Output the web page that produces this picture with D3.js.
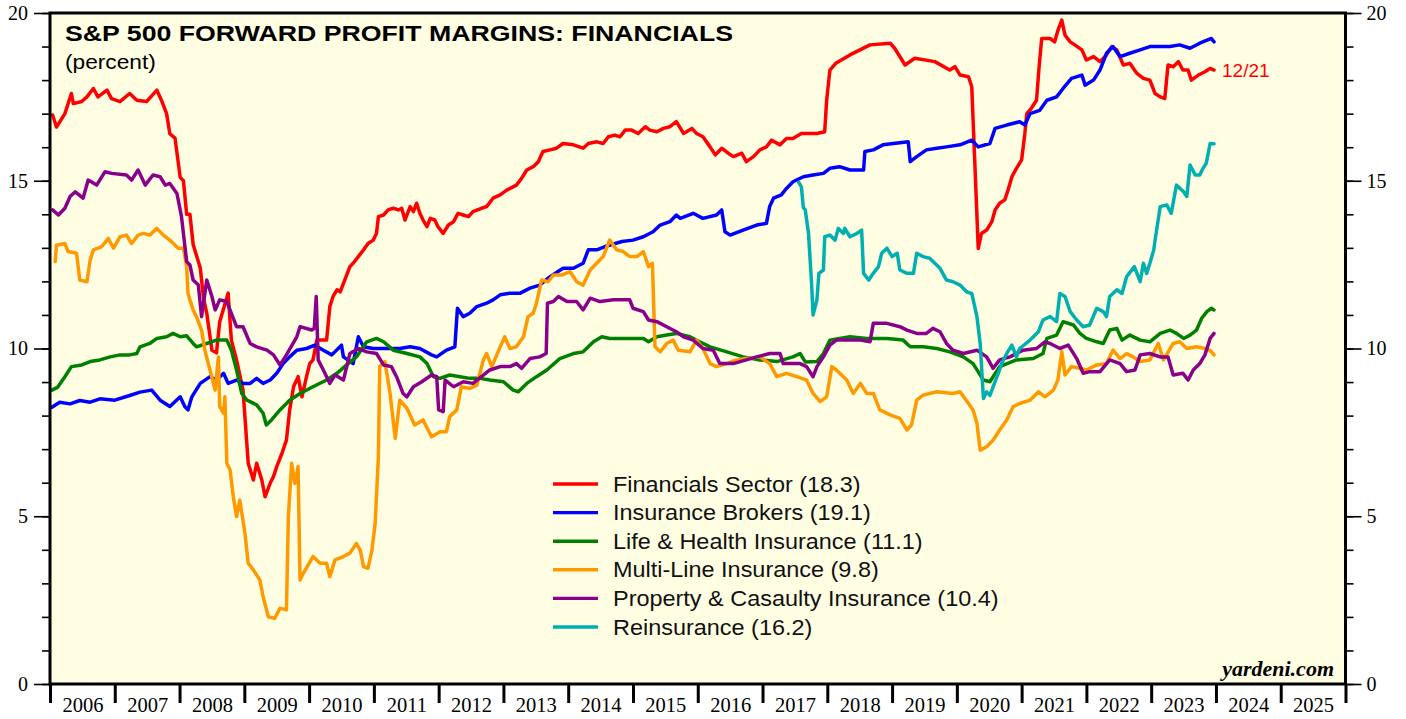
<!DOCTYPE html>
<html>
<head>
<meta charset="utf-8">
<script src="https://cdn.jsdelivr.net/npm/d3@7"></script>
<style>
  html, body { margin: 0; padding: 0; background: #ffffff; }
  svg { display: block; }
</style>
</head>
<body>
<svg id="chart" width="1406" height="719"></svg>
<script>
// ---------------- DATA (decimal year, percent) ----------------
const title = "S&P 500 FORWARD PROFIT MARGINS: FINANCIALS";
const subtitle = "(percent)";
const yTicks = [0, 5, 10, 15, 20];
const yearLabels = [2006,2007,2008,2009,2010,2011,2012,2013,2014,2015,2016,2017,2018,2019,2020,2021,2022,2023,2024,2025];
const seriesNames = ["Financials Sector (18.3)","Insurance Brokers (19.1)","Life & Health Insurance (11.1)","Multi-Line Insurance (9.8)","Property & Casaulty Insurance (10.4)","Reinsurance (16.2)"];
const lastDateLabel = "12/21";

const financials = [
[2006.04,16.96],[2006.10,16.6],[2006.23,17.0],[2006.33,17.6],[2006.36,17.3],[2006.49,17.36],[2006.57,17.5],[2006.67,17.75],[2006.74,17.5],[2006.88,17.7],[2006.95,17.45],
[2007.08,17.36],[2007.23,17.6],[2007.34,17.4],[2007.49,17.36],[2007.65,17.7],[2007.72,17.4],[2007.80,17.0],[2007.85,16.4],[2007.93,16.27],
[2008.01,15.1],[2008.06,15.0],[2008.11,14.0],[2008.16,14.0],[2008.21,13.1],[2008.32,12.4],[2008.37,11.5],[2008.42,11.05],[2008.50,9.95],[2008.57,9.87],[2008.62,10.8],[2008.75,11.65],[2008.80,10.25],[2008.88,9.66],[2008.98,8.76],
[2009.06,6.58],[2009.14,6.08],[2009.19,6.58],[2009.27,6.08],[2009.32,5.58],[2009.40,5.99],[2009.45,6.18],[2009.50,6.48],[2009.58,6.87],[2009.65,7.27],[2009.70,8.17],[2009.76,8.86],[2009.83,9.16],[2009.89,8.56],[2009.96,9.16],
[2010.01,9.55],[2010.06,9.66],[2010.12,10.25],[2010.27,10.25],[2010.32,11.25],[2010.37,11.55],[2010.43,11.75],[2010.48,11.69],[2010.55,12.04],[2010.63,12.44],[2010.68,12.54],[2010.76,12.74],[2010.84,12.94],[2010.91,13.13],[2010.99,13.23],
[2011.04,13.43],[2011.07,13.93],[2011.15,13.98],[2011.22,14.13],[2011.30,14.18],[2011.38,14.13],[2011.43,14.18],[2011.48,13.83],[2011.56,14.23],[2011.61,14.08],[2011.66,14.33],[2011.71,14.03],[2011.76,13.83],[2011.82,13.63],[2011.87,13.88],[2011.94,13.83],[2011.99,13.63],
[2012.07,13.43],[2012.15,13.68],[2012.23,13.78],[2012.30,14.03],[2012.38,13.98],[2012.46,13.93],[2012.53,14.08],[2012.66,14.18],[2012.74,14.23],[2012.84,14.48],[2012.95,14.58],
[2013.05,14.72],[2013.20,14.87],[2013.28,15.07],[2013.36,15.32],[2013.46,15.42],[2013.54,15.57],[2013.61,15.87],[2013.72,15.92],[2013.82,15.97],[2013.92,16.11],
[2014.08,16.07],[2014.23,15.97],[2014.31,16.11],[2014.44,16.16],[2014.54,16.11],[2014.62,16.31],[2014.72,16.36],[2014.80,16.31],[2014.88,16.51],[2014.98,16.51],
[2015.08,16.41],[2015.19,16.61],[2015.26,16.51],[2015.37,16.46],[2015.47,16.56],[2015.57,16.61],[2015.67,16.76],[2015.78,16.41],[2015.91,16.56],[2015.98,16.41],
[2016.08,16.31],[2016.19,16.01],[2016.27,15.77],[2016.37,15.97],[2016.47,15.82],[2016.55,15.72],[2016.68,15.82],[2016.75,15.57],[2016.86,15.72],[2016.96,15.92],
[2017.06,16.01],[2017.14,16.21],[2017.27,16.07],[2017.37,16.26],[2017.47,16.26],[2017.60,16.41],[2017.73,16.41],[2017.84,16.41],[2017.96,16.46],[2017.99,17.4],
[2018.04,18.3],[2018.13,18.5],[2018.35,18.75],[2018.66,19.05],[2018.97,19.1],[2019.04,18.95],[2019.20,18.45],[2019.35,18.65],[2019.66,18.55],[2019.89,18.3],[2019.97,18.4],
[2020.05,18.15],[2020.18,18.1],[2020.23,17.8],[2020.28,15.42],[2020.33,12.98],[2020.38,13.43],[2020.46,13.53],[2020.54,13.78],[2020.59,14.13],[2020.66,14.33],[2020.74,14.43],[2020.79,14.72],[2020.85,15.12],[2020.92,15.37],
[2021.00,15.62],[2021.05,16.41],[2021.08,17.0],[2021.15,17.16],[2021.23,17.4],[2021.27,18.4],[2021.31,19.24],[2021.44,19.24],[2021.51,19.14],[2021.56,19.48],[2021.62,19.79],[2021.67,19.34],[2021.75,19.14],[2021.82,19.05],[2021.93,18.9],
[2022.00,18.6],[2022.11,18.7],[2022.21,18.55],[2022.31,18.75],[2022.39,19.0],[2022.47,18.9],[2022.57,18.45],[2022.67,18.5],[2022.78,18.2],[2022.88,18.05],[2022.98,18.0],
[2023.06,17.6],[2023.14,17.5],[2023.21,17.45],[2023.26,18.45],[2023.34,18.4],[2023.42,18.55],[2023.49,18.3],[2023.57,18.3],[2023.62,18.0],[2023.73,18.15],[2023.83,18.25],[2023.91,18.35],[2023.97,18.3]
];

const brokers = [
[2006.03,8.25],[2006.15,8.4],[2006.31,8.35],[2006.46,8.45],[2006.62,8.4],[2006.77,8.5],[2007.00,8.46],[2007.23,8.6],[2007.39,8.7],[2007.57,8.76],[2007.70,8.46],[2007.85,8.27],
[2008.01,8.56],[2008.08,8.27],[2008.13,8.17],[2008.19,8.56],[2008.32,8.96],[2008.47,9.16],[2008.57,9.06],[2008.68,9.26],[2008.75,8.96],[2008.88,9.06],[2008.98,8.96],
[2009.09,8.96],[2009.19,9.11],[2009.29,8.96],[2009.40,9.06],[2009.50,9.26],[2009.60,9.55],[2009.70,9.75],[2009.81,9.95],[2009.96,10.0],
[2010.09,10.1],[2010.22,9.95],[2010.35,9.81],[2010.50,10.1],[2010.53,9.75],[2010.68,9.55],[2010.76,10.35],[2010.84,10.05],[2010.99,10.0],
[2011.20,10.0],[2011.40,10.0],[2011.56,10.05],[2011.71,10.0],[2011.89,9.81],[2011.97,9.75],[2012.12,9.95],[2012.25,10.05],[2012.29,11.2],[2012.38,10.95],[2012.48,11.05],[2012.59,11.25],[2012.74,11.35],[2012.84,11.45],[2012.95,11.6],
[2013.10,11.65],[2013.26,11.65],[2013.41,11.8],[2013.56,11.89],[2013.72,12.14],[2013.92,12.39],[2014.08,12.39],[2014.23,12.54],[2014.31,12.94],[2014.44,12.94],[2014.57,13.04],[2014.83,13.19],
[2015.00,13.23],[2015.16,13.33],[2015.31,13.48],[2015.42,13.68],[2015.57,13.78],[2015.67,13.98],[2015.73,13.88],[2015.93,14.03],[2016.08,13.88],[2016.29,13.98],[2016.37,14.13],[2016.42,13.48],[2016.50,13.38],[2016.70,13.53],[2016.91,13.68],
[2017.06,13.73],[2017.11,14.23],[2017.17,14.48],[2017.29,14.58],[2017.37,14.77],[2017.47,14.97],[2017.63,15.12],[2017.78,15.17],[2017.94,15.22],
[2018.04,15.37],[2018.19,15.42],[2018.35,15.32],[2018.56,15.32],[2018.58,15.87],[2018.71,15.92],[2018.86,16.07],[2019.02,16.11],[2019.25,16.16],[2019.28,15.57],[2019.38,15.72],[2019.53,15.92],[2019.69,15.97],[2019.84,16.01],
[2020.05,16.07],[2020.23,16.21],[2020.33,16.01],[2020.51,16.11],[2020.59,16.56],[2020.77,16.66],[2020.97,16.76],[2021.05,16.66],[2021.13,17.0],[2021.28,17.1],[2021.39,17.4],[2021.54,17.5],[2021.64,17.75],[2021.77,18.05],[2021.93,18.15],[2021.98,17.85],
[2022.11,18.0],[2022.21,18.3],[2022.31,18.8],[2022.41,19.0],[2022.52,18.7],[2022.67,18.8],[2022.83,18.9],[2022.98,19.0],[2023.29,19.0],[2023.44,19.05],[2023.60,18.95],[2023.75,19.1],[2023.93,19.24],[2023.97,19.14]
];

const lifeHealth = [
[2006.03,8.76],[2006.12,8.85],[2006.23,9.16],[2006.33,9.46],[2006.49,9.51],[2006.62,9.61],[2006.77,9.66],[2006.93,9.75],[2007.08,9.81],[2007.23,9.81],[2007.34,9.85],[2007.39,10.05],[2007.54,10.15],[2007.65,10.3],[2007.80,10.35],[2007.90,10.45],
[2008.01,10.35],[2008.11,10.38],[2008.21,10.15],[2008.26,10.05],[2008.42,10.15],[2008.57,10.25],[2008.73,10.25],[2008.80,9.95],[2008.88,9.36],[2008.96,8.66],[2009.04,8.46],[2009.19,8.32],[2009.29,8.07],[2009.34,7.72],[2009.42,7.87],[2009.55,8.17],[2009.70,8.46],[2009.86,8.66],
[2010.06,8.86],[2010.27,9.06],[2010.43,9.26],[2010.58,9.51],[2010.73,9.75],[2010.89,10.2],[2011.04,10.3],[2011.15,10.2],[2011.30,9.95],[2011.51,9.85],[2011.71,9.75],[2011.82,9.55],[2011.92,9.16],
[2012.02,9.11],[2012.17,9.21],[2012.33,9.16],[2012.48,9.11],[2012.64,9.11],[2012.79,9.06],[2013.00,9.01],[2013.15,8.76],[2013.23,8.71],[2013.36,8.96],[2013.51,9.16],[2013.67,9.36],[2013.87,9.7],
[2014.08,9.85],[2014.23,9.9],[2014.39,10.2],[2014.52,10.35],[2014.64,10.3],[2014.90,10.3],[2015.16,10.3],[2015.24,10.2],[2015.37,10.35],[2015.52,10.4],[2015.67,10.45],[2015.88,10.35],
[2016.03,10.2],[2016.19,10.05],[2016.45,9.9],[2016.70,9.75],[2016.96,9.66],[2017.22,9.61],[2017.47,9.75],[2017.58,9.85],[2017.66,9.6],[2017.84,9.61],[2017.94,9.85],
[2018.04,10.25],[2018.19,10.3],[2018.35,10.35],[2018.61,10.3],[2018.92,10.3],[2019.17,10.25],[2019.28,10.05],[2019.48,10.05],[2019.69,10.0],[2019.89,9.9],
[2020.10,9.75],[2020.25,9.55],[2020.41,9.06],[2020.51,9.01],[2020.66,9.46],[2020.92,9.66],[2021.18,9.7],[2021.33,9.85],[2021.39,10.3],[2021.54,10.4],[2021.64,10.8],[2021.80,10.7],[2021.90,10.45],
[2022.00,10.3],[2022.16,10.2],[2022.26,10.15],[2022.36,10.55],[2022.47,10.6],[2022.55,10.25],[2022.67,10.4],[2022.83,10.25],[2022.98,10.2],
[2023.14,10.45],[2023.29,10.55],[2023.39,10.45],[2023.50,10.3],[2023.60,10.4],[2023.70,10.55],[2023.78,10.9],[2023.86,11.1],[2023.93,11.2],[2023.97,11.15]
];

const multiLine = [
[2006.08,12.59],[2006.10,13.08],[2006.23,13.13],[2006.28,12.89],[2006.41,12.84],[2006.46,12.04],[2006.57,11.99],[2006.62,12.64],[2006.67,12.94],[2006.80,13.04],[2006.90,13.28],[2006.98,12.99],
[2007.08,13.33],[2007.18,13.38],[2007.26,13.13],[2007.36,13.38],[2007.44,13.43],[2007.54,13.38],[2007.65,13.58],[2007.75,13.38],[2007.85,13.23],[2007.98,12.99],
[2008.06,12.99],[2008.11,12.44],[2008.13,11.65],[2008.16,11.45],[2008.21,11.15],[2008.26,10.95],[2008.34,10.55],[2008.39,9.95],[2008.47,9.36],[2008.55,8.76],[2008.60,9.75],[2008.62,8.27],[2008.68,8.07],[2008.70,8.56],[2008.73,6.58],[2008.78,6.38],[2008.83,5.58],[2008.88,4.99],[2008.93,5.48],
[2009.01,4.49],[2009.06,3.6],[2009.14,3.4],[2009.24,3.1],[2009.29,2.6],[2009.37,2.0],[2009.47,1.96],[2009.55,2.26],[2009.65,2.21],[2009.68,4.99],[2009.73,6.58],[2009.78,5.98],[2009.83,6.48],[2009.86,3.1],[2009.91,3.3],
[2010.06,3.8],[2010.17,3.6],[2010.27,3.6],[2010.32,3.2],[2010.40,3.7],[2010.53,3.8],[2010.63,3.9],[2010.73,4.19],[2010.79,3.99],[2010.84,3.5],[2010.91,3.45],[2010.97,3.99],
[2011.02,4.79],[2011.07,6.78],[2011.09,9.46],[2011.17,9.61],[2011.25,8.66],[2011.33,7.32],[2011.40,8.46],[2011.51,8.22],[2011.63,7.72],[2011.76,7.87],[2011.89,7.37],
[2012.02,7.52],[2012.12,7.52],[2012.17,7.97],[2012.28,8.17],[2012.35,8.86],[2012.48,8.81],[2012.59,8.91],[2012.69,9.66],[2012.74,9.85],[2012.82,9.46],[2012.95,10.05],
[2013.02,10.35],[2013.10,10.0],[2013.20,10.05],[2013.31,10.35],[2013.38,10.95],[2013.46,11.05],[2013.51,11.35],[2013.59,12.04],[2013.69,11.99],[2013.77,12.19],[2013.90,12.19],
[2014.03,12.29],[2014.13,11.99],[2014.23,11.89],[2014.34,12.34],[2014.44,12.54],[2014.54,12.74],[2014.64,13.23],[2014.75,12.94],[2014.85,12.89],[2014.95,12.74],
[2015.06,12.74],[2015.16,12.89],[2015.24,12.44],[2015.30,12.54],[2015.34,10.05],[2015.42,9.9],[2015.52,10.15],[2015.62,10.25],[2015.70,9.95],[2015.88,9.9],[2015.98,10.25],
[2016.08,10.0],[2016.19,9.55],[2016.29,9.46],[2016.45,9.55],[2016.60,9.66],[2016.75,9.7],[2016.96,9.75],[2017.11,9.55],[2017.22,9.16],[2017.37,9.26],[2017.53,9.16],[2017.68,9.06],[2017.78,8.66],[2017.89,8.42],[2017.99,8.56],
[2018.07,9.46],[2018.14,9.36],[2018.30,9.06],[2018.40,8.66],[2018.51,8.96],[2018.61,8.66],[2018.71,8.66],[2018.81,8.17],[2018.97,8.02],[2019.12,7.92],[2019.23,7.57],[2019.30,7.72],[2019.38,8.46],[2019.48,8.61],[2019.69,8.71],[2019.94,8.66],
[2020.05,8.71],[2020.18,8.36],[2020.25,8.17],[2020.31,7.77],[2020.36,6.97],[2020.46,7.07],[2020.56,7.27],[2020.66,7.57],[2020.77,7.87],[2020.87,8.27],[2020.97,8.36],
[2021.13,8.46],[2021.26,8.71],[2021.36,8.56],[2021.49,8.76],[2021.56,9.06],[2021.62,9.9],[2021.67,9.21],[2021.77,9.46],[2021.90,9.41],
[2022.00,9.36],[2022.16,9.51],[2022.31,9.55],[2022.41,9.95],[2022.52,9.7],[2022.62,9.85],[2022.72,9.75],[2022.83,9.61],[2022.98,9.66],
[2023.11,10.15],[2023.19,9.66],[2023.34,10.15],[2023.44,10.2],[2023.55,10.0],[2023.70,10.05],[2023.83,10.0],[2023.90,9.95],[2023.93,9.9],[2023.97,9.81]
];

const propCasualty = [
[2006.04,14.13],[2006.13,13.98],[2006.23,14.18],[2006.31,14.53],[2006.39,14.67],[2006.51,14.48],[2006.59,15.02],[2006.72,14.87],[2006.85,15.27],[2006.95,15.22],
[2007.18,15.17],[2007.26,15.02],[2007.36,15.32],[2007.47,14.87],[2007.59,15.17],[2007.70,15.12],[2007.78,14.87],[2007.85,14.92],[2007.96,14.62],
[2008.03,13.93],[2008.11,12.59],[2008.16,12.49],[2008.21,12.04],[2008.29,11.89],[2008.34,10.95],[2008.42,12.04],[2008.50,11.55],[2008.55,11.15],[2008.62,11.45],[2008.73,11.4],[2008.80,11.05],[2008.88,10.65],[2008.98,10.65],
[2009.09,10.15],[2009.19,10.05],[2009.35,9.95],[2009.45,9.81],[2009.55,9.51],[2009.65,9.81],[2009.81,10.35],[2009.86,10.65],[2010.04,10.55],[2010.08,10.6],[2010.11,11.55],[2010.14,9.66],[2010.22,9.36],[2010.32,8.96],[2010.40,9.21],[2010.53,9.06],[2010.63,9.85],[2010.76,10.0],[2010.89,9.9],
[2011.04,9.85],[2011.15,9.51],[2011.27,9.46],[2011.35,9.16],[2011.45,8.66],[2011.51,8.56],[2011.61,8.86],[2011.74,9.01],[2011.89,9.21],[2011.97,9.16],[2012.00,8.17],[2012.07,8.12],[2012.10,9.06],[2012.23,8.86],[2012.38,9.01],[2012.53,8.96],[2012.66,9.16],[2012.79,9.36],[2012.95,9.46],
[2013.10,9.46],[2013.20,9.55],[2013.28,9.41],[2013.41,9.7],[2013.56,9.75],[2013.66,9.85],[2013.68,11.35],[2013.77,11.4],[2013.85,11.55],[2013.98,11.4],[2014.13,11.4],[2014.23,11.15],[2014.34,11.5],[2014.49,11.4],[2014.70,11.45],[2014.95,11.45],
[2015.00,11.2],[2015.16,11.1],[2015.24,10.85],[2015.37,10.8],[2015.52,10.65],[2015.67,10.5],[2015.78,10.35],[2015.93,10.25],[2016.08,10.0],[2016.24,9.95],[2016.34,9.55],[2016.55,9.55],[2016.75,9.66],[2016.91,9.75],
[2017.11,9.85],[2017.27,9.85],[2017.32,9.55],[2017.58,9.55],[2017.68,9.46],[2017.78,9.16],[2017.84,9.46],[2017.94,9.75],[2018.04,10.1],[2018.14,10.25],[2018.51,10.25],[2018.66,10.2],[2018.71,10.75],[2018.92,10.75],
[2019.12,10.65],[2019.23,10.55],[2019.38,10.45],[2019.53,10.45],[2019.63,10.6],[2019.74,10.5],[2019.84,10.15],[2019.94,9.95],[2020.10,9.85],[2020.31,9.95],[2020.46,9.75],[2020.56,9.41],[2020.66,9.66],[2020.82,9.75],
[2021.02,9.95],[2021.23,10.0],[2021.36,10.2],[2021.44,10.15],[2021.59,10.0],[2021.72,10.1],[2021.85,9.7],[2021.95,9.26],[2022.05,9.31],[2022.21,9.31],[2022.36,9.66],[2022.52,9.55],[2022.62,9.31],[2022.75,9.36],[2022.83,9.81],[2022.98,9.85],
[2023.14,9.75],[2023.26,9.75],[2023.34,9.21],[2023.49,9.26],[2023.57,9.06],[2023.65,9.36],[2023.75,9.55],[2023.83,9.81],[2023.91,10.3],[2023.97,10.45]
];

const reinsurance = [
[2017.56,14.95],[2017.60,14.82],[2017.63,14.2],[2017.66,14.13],[2017.71,13.43],[2017.76,11.84],[2017.78,11.0],[2017.84,11.45],[2017.87,12.24],[2017.94,12.34],[2017.96,13.33],
[2018.04,13.38],[2018.12,13.23],[2018.17,13.58],[2018.25,13.43],[2018.27,13.58],[2018.35,13.33],[2018.46,13.43],[2018.53,13.53],[2018.56,12.24],[2018.64,12.04],[2018.71,12.24],[2018.79,12.44],[2018.84,12.84],[2018.92,12.99],
[2019.00,12.74],[2019.08,12.84],[2019.12,12.34],[2019.23,12.24],[2019.33,12.24],[2019.38,12.84],[2019.48,12.74],[2019.58,12.69],[2019.66,12.54],[2019.74,12.39],[2019.84,12.04],[2019.94,11.99],
[2020.05,11.89],[2020.15,11.69],[2020.23,11.64],[2020.31,10.95],[2020.36,10.15],[2020.41,8.51],[2020.46,8.71],[2020.51,8.6],[2020.59,9.01],[2020.64,9.26],[2020.69,9.55],[2020.77,9.85],[2020.85,10.1],[2020.92,9.75],[2020.97,10.0],
[2021.13,10.25],[2021.26,10.5],[2021.33,10.85],[2021.44,10.95],[2021.54,10.8],[2021.59,11.64],[2021.67,11.55],[2021.75,11.1],[2021.85,10.85],[2021.95,10.65],
[2022.05,10.7],[2022.16,11.2],[2022.26,11.1],[2022.31,10.95],[2022.36,11.55],[2022.47,11.75],[2022.55,11.64],[2022.62,12.14],[2022.74,12.44],[2022.83,11.99],[2022.88,12.54],[2022.93,12.24],[2022.98,12.54],
[2023.04,12.94],[2023.06,13.23],[2023.14,14.23],[2023.24,14.28],[2023.31,14.03],[2023.39,14.87],[2023.50,14.67],[2023.55,14.53],[2023.60,15.47],[2023.68,15.17],[2023.75,15.17],[2023.80,15.37],[2023.85,15.52],[2023.91,16.11],[2023.97,16.1]
];

const seriesData = [financials, brokers, lifeHealth, multiLine, propCasualty, reinsurance];
const seriesColors = ["#ff0000", "#0000ff", "#008000", "#ff9900", "#8b008b", "#00b0b0"];

// ---------------- LAYOUT ----------------
const L = 50, R = 1345.5, T = 13, B = 684;
const svg = d3.select("#chart");
const x = d3.scaleLinear().domain([2006, 2026]).range([L, R]);
const y = d3.scaleLinear().domain([0, 20]).range([B, T]);

svg.append("defs").append("clipPath").attr("id", "plotclip")
  .append("rect").attr("x", L).attr("y", T).attr("width", R - L).attr("height", B - T);

svg.append("rect").attr("x", L).attr("y", T).attr("width", R - L).attr("height", B - T)
  .attr("fill", "#fffee3");

// Lines (legend order: later series drawn on top)
const line = d3.line().x(d => x(d[0])).y(d => y(d[1])).curve(d3.curveLinear);
const gLines = svg.append("g").attr("clip-path", "url(#plotclip)");
seriesData.forEach((data, i) => {
  gLines.append("path").datum(data)
    .attr("d", line).attr("fill", "none")
    .attr("stroke", seriesColors[i]).attr("stroke-width", 3.5)
    .attr("stroke-linejoin", "round").attr("stroke-linecap", "round");
});

// Frame
svg.append("rect").attr("x", L).attr("y", T).attr("width", R - L).attr("height", B - T)
  .attr("fill", "none").attr("stroke", "#000").attr("stroke-width", 3);

// Y axes
const serif = "'Liberation Serif', 'Times New Roman', serif";
function styleAxis(g, w) {
  g.select(".domain").remove();
  g.selectAll(".tick line").attr("stroke", "#000").attr("stroke-width", w);
  g.selectAll(".tick text").attr("font-family", serif).attr("font-size", 20).attr("fill", "#000");
}
const yMinor = d3.range(0, 21);
svg.append("g").attr("transform", `translate(${L},0)`)
  .call(d3.axisLeft(y).tickValues(yMinor).tickSize(8).tickFormat(""))
  .call(g => styleAxis(g, 1.6));
svg.append("g").attr("transform", `translate(${L},0)`)
  .call(d3.axisLeft(y).tickValues(yTicks).tickSize(16).tickPadding(6).tickFormat(d3.format("d")))
  .call(g => styleAxis(g, 1.6));
svg.append("g").attr("transform", `translate(${R},0)`)
  .call(d3.axisRight(y).tickValues(yMinor).tickSize(8).tickFormat(""))
  .call(g => styleAxis(g, 1.6));
svg.append("g").attr("transform", `translate(${R},0)`)
  .call(d3.axisRight(y).tickValues(yTicks).tickSize(16).tickPadding(5).tickFormat(d3.format("d")))
  .call(g => styleAxis(g, 1.6));

// X axis: ticks at year boundaries, labels mid-year
svg.append("g").attr("transform", `translate(0,${B})`)
  .call(d3.axisBottom(x).tickValues(d3.range(2006, 2027)).tickSize(19).tickFormat(""))
  .call(g => styleAxis(g, 3));
svg.append("g").attr("transform", `translate(0,${B})`)
  .call(d3.axisBottom(x).tickValues(yearLabels.map(d => d + 0.5)).tickSize(0).tickPadding(13).tickFormat(d => String(Math.floor(d))))
  .call(g => styleAxis(g, 0))
  .call(g => g.selectAll(".tick text").attr("font-size", 20.5));

// Title texts (reference glyphs are wider than Arial; stretch them)
const sans = "'Liberation Sans', Arial, Helvetica, sans-serif";
function stretch(sel, f) {
  const w = sel.node().getComputedTextLength();
  sel.attr("textLength", w * f).attr("lengthAdjust", "spacingAndGlyphs");
}
svg.append("text").attr("x", 65).attr("y", 41).text(title)
  .attr("font-family", sans).attr("font-weight", "bold").attr("font-size", 22.5).attr("fill", "#000")
  .call(s => s.attr("textLength", 668).attr("lengthAdjust", "spacingAndGlyphs"));
svg.append("text").attr("x", 65).attr("y", 69).text(subtitle)
  .attr("font-family", sans).attr("font-size", 21).attr("fill", "#000")
  .call(s => stretch(s, 1.08));

// Last-date label
const lastPt = financials[financials.length - 1];
svg.append("text").attr("x", x(lastPt[0]) + 8).attr("y", y(lastPt[1])).attr("dy", "0.36em")
  .text(lastDateLabel).attr("font-family", sans).attr("font-size", 19).attr("fill", "#ff0000");

// Legend
const legX = 553, legY = 484, legStep = 28.6;
const leg = svg.append("g");
seriesNames.forEach((name, i) => {
  const yy = legY + i * legStep;
  leg.append("line").attr("x1", legX).attr("x2", legX + 45).attr("y1", yy).attr("y2", yy)
    .attr("stroke", seriesColors[i]).attr("stroke-width", 3.4);
  leg.append("text").attr("x", legX + 60).attr("y", yy).attr("dy", "0.35em").text(name)
    .attr("font-family", sans).attr("font-size", 21.5).attr("fill", "#111")
    .call(s => stretch(s, 1.09));
});

// Source
svg.append("text").attr("x", 1334).attr("y", 676).attr("text-anchor", "end").text("yardeni.com")
  .attr("font-family", serif).attr("font-weight", "bold").attr("font-style", "italic")
  .attr("font-size", 22).attr("fill", "#000");
</script>
</body>
</html>
